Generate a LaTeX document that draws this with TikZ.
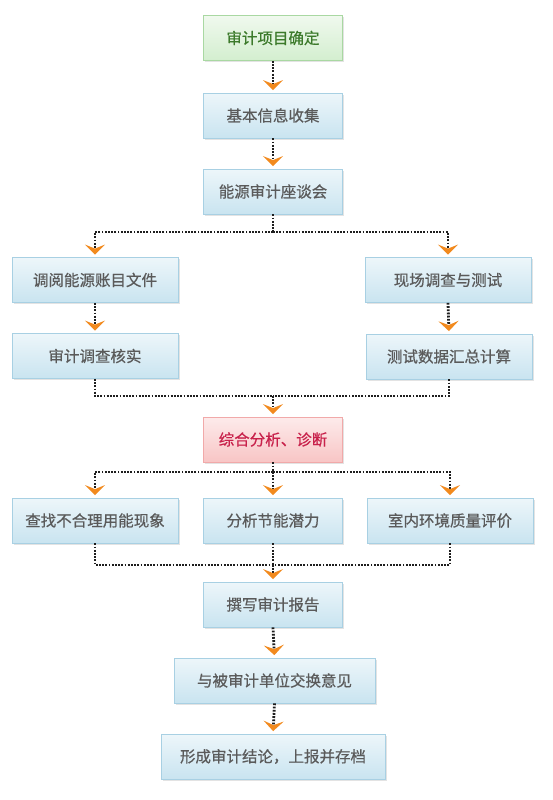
\documentclass[tikz,border=0pt]{standalone}
\usepackage{fontspec}
\setmainfont{Noto Sans CJK SC}[FakeBold=0.6]
\usetikzlibrary{arrows.meta,shadows}

\definecolor{boxline}{HTML}{A8D0E3}
\definecolor{boxtop}{HTML}{EDF6FA}
\definecolor{boxbot}{HTML}{C9E4F0}
\definecolor{greenline}{HTML}{A9D8A2}
\definecolor{greentop}{HTML}{F0F9EE}
\definecolor{greenbot}{HTML}{D3EECF}
\definecolor{greentext}{HTML}{3C7A2B}
\definecolor{redline}{HTML}{F1A9A9}
\definecolor{redtop}{HTML}{FDEBEB}
\definecolor{redbot}{HTML}{F8C5C5}
\definecolor{redtext}{HTML}{C8214B}
\definecolor{textgray}{HTML}{5A5A5A}
\definecolor{dotblack}{HTML}{1E1E1E}
\definecolor{arroworange}{HTML}{F28A1E}

\begin{document}
\begin{tikzpicture}[x=1pt,y=-1pt,
	box/.style={draw=boxline, line width=0.8pt, top color=boxtop, bottom color=boxbot,
		minimum height=45pt, text=textgray, font=\fontsize{15.5}{17}\selectfont,
		drop shadow={opacity=0.22, shadow xshift=1.5pt, shadow yshift=-1.5pt}},
	greenbox/.style={box, draw=greenline, top color=greentop, bottom color=greenbot, text=greentext},
	redbox/.style={box, draw=redline, top color=redtop, bottom color=redbot, text=redtext},
	link/.style={draw=dotblack, line width=2.8pt, dash pattern=on 1.8pt off 1.4pt},
	flow/.style={link, shorten >=2.5pt,
		-{Stealth[length=10pt,width=20pt,inset=4pt,color=arroworange]}}]

	\fill[white] (0,0) rectangle (552,800);
	\useasboundingbox (0,0) rectangle (552,800);

	% main column
	\node[greenbox, minimum width=139pt] (plan) at (273,38) {审计项目确定};
	\node[box, minimum width=139pt] (collect) at (273,115.5) {基本信息收集};
	\node[box, minimum width=139pt] (meeting) at (273,191.5) {能源审计座谈会};

	% two branches
	\node[box, minimum width=166pt] (accounts) at (95,280) {调阅能源账目文件};
	\node[box, minimum width=166pt] (verify) at (95,356) {审计调查核实};
	\node[box, minimum width=166pt] (onsite) at (448,280) {现场调查与测试};
	\node[box, minimum width=166pt] (sum) at (449,356.5) {测试数据汇总计算};

	\node[redbox, minimum width=139pt] (analysis) at (273,439.5) {综合分析、诊断};

	% three branches
	\node[box, minimum width=166pt] (waste) at (95,520.5) {查找不合理用能现象};
	\node[box, minimum width=139pt] (potential) at (273,520.5) {分析节能潜力};
	\node[box, minimum width=166pt] (indoor) at (450,520.5) {室内环境质量评价};

	\node[box, minimum width=139pt] (report) at (273,604.5) {撰写审计报告};
	\node[box, minimum width=201pt] (exchange) at (274.5,680.5) {与被审计单位交换意见};
	\node[box, minimum width=224pt] (conclude) at (273,756.5) {形成审计结论，上报并存档};

	\coordinate (split1) at (273,232);
	\coordinate (join1) at (273,396);
	\coordinate (split2) at (273,472);
	\coordinate (join2) at (273,565);

	\draw[flow] (plan.south) -- (collect.north);
	\draw[flow] (collect.south) -- (meeting.north);

	\draw[link] (meeting.south) -- (split1);
	\draw[flow] (split1) -| (accounts.north);
	\draw[flow] (split1) -| (onsite.north);
	\draw[flow] (accounts.south) -- (verify.north);
	\draw[flow] (onsite.south) -- (sum.north);
	\draw[link] (verify.south) |- (join1);
	\draw[link] (sum.south) |- (join1);
	\draw[flow] (join1) -- (analysis.north);

	\draw[link] (analysis.south) -- (split2);
	\foreach \n in {waste,potential,indoor}
		\draw[flow] (split2) -| (\n.north);
	\foreach \n in {waste,potential,indoor}
		\draw[link] (\n.south) |- (join2);
	\draw[flow] (join2) -- (report.north);

	\draw[flow] (report.south) -- (exchange.north);
	\draw[flow] (exchange.south) -- (conclude.north);
\end{tikzpicture}
\end{document}
